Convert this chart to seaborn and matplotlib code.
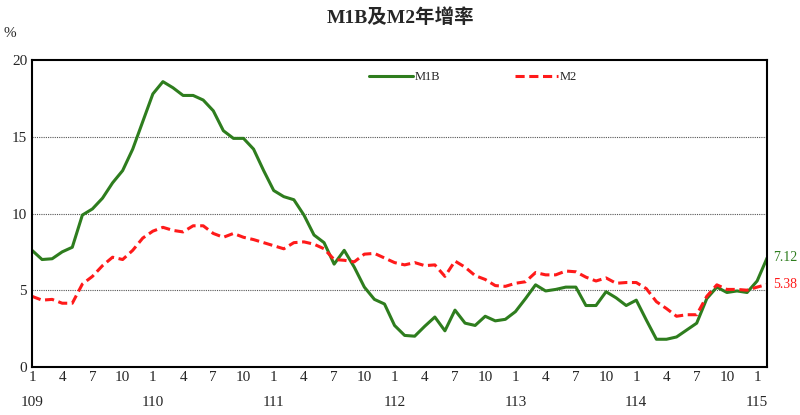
import numpy as np
import matplotlib
matplotlib.use('Agg')
import matplotlib.pyplot as plt
import seaborn as sns

# monthly data from 109/1 to 115/2
m1b = [7.6, 7.0, 7.05, 7.5, 7.8, 9.9, 10.3, 11.0, 12.0, 12.8, 14.2, 16.0,
       17.8, 18.6, 18.2, 17.7, 17.7, 17.4, 16.7, 15.4, 14.9, 14.9, 14.2, 12.8,
       11.5, 11.1, 10.9, 9.9, 8.6, 8.1, 6.7, 7.6, 6.5, 5.2, 4.4, 4.1,
       2.7, 2.05, 2.0, 2.65, 3.25, 2.35, 3.7, 2.85, 2.7, 3.3, 3.0, 3.1,
       3.6, 4.45, 5.35, 4.95, 5.05, 5.2, 5.2, 4.0, 4.0, 4.9, 4.5, 4.0,
       4.35, 3.05, 1.8, 1.8, 1.95, 2.4, 2.85, 4.45, 5.2, 4.85, 4.95, 4.85,
       5.6, 7.12]
m2 = [4.6, 4.35, 4.4, 4.15, 4.15, 5.4, 5.9, 6.6, 7.15, 7.0, 7.6, 8.4,
      8.85, 9.1, 8.9, 8.8, 9.2, 9.2, 8.7, 8.45, 8.7, 8.45, 8.3, 8.1,
      7.9, 7.7, 8.1, 8.15, 8.0, 7.7, 7.0, 6.95, 6.85, 7.35, 7.4, 7.1,
      6.8, 6.65, 6.8, 6.6, 6.65, 5.9, 6.9, 6.5, 5.95, 5.7, 5.3, 5.25,
      5.45, 5.55, 6.15, 6.0, 6.0, 6.25, 6.2, 5.85, 5.6, 5.8, 5.45, 5.5,
      5.5, 5.1, 4.25, 3.8, 3.3, 3.4, 3.4, 4.6, 5.35, 5.05, 5.05, 5.0,
      5.2, 5.38]
years = ['109', '110', '111', '112', '113', '114', '115']
month_ticks = ['1', '4', '7', '10']

sns.set_style('white')
plt.rcParams['font.family'] = ['Liberation Serif', 'Noto Sans CJK TC']

x = np.arange(len(m1b))
fig = plt.figure(figsize=(8, 4.15), dpi=100)
ax = fig.add_axes([0.04, 0.116, 0.919, 0.739])

sns.lineplot(x=x, y=m1b, ax=ax, color='#2e7d1e', lw=2.2, label='M1B')
sns.lineplot(x=x, y=m2, ax=ax, color='#ff1a1a', lw=2.2, ls=(0, (3, 1.5)), label='M2')

ax.set_xlim(0, len(m1b) - 1)
ax.set_ylim(0, 20)
ax.set_yticks([0, 5, 10, 15, 20])
for v in [5, 10, 15]:
    ax.axhline(v, color='#555555', lw=0.8, ls=(0, (1, 1)), zorder=0)

ticks = np.arange(0, len(m1b), 3)
ax.set_xticks(ticks)
ax.set_xticklabels([month_ticks[(t // 3) % 4] for t in ticks], fontsize=11)
ax.tick_params(axis='x', direction='in', length=5, pad=3)
ax.tick_params(axis='y', length=0, labelsize=11)
for i, yr in enumerate(years):
    ax.text(i * 12, -2.35, yr, ha='center', va='center', fontsize=11)
for s in ax.spines.values():
    s.set_linewidth(1.5)
    s.set_color('black')

ax.text(len(m1b) - 1 + 0.6, m1b[-1], f'{m1b[-1]:.2f}', color='#2e7d1e', fontsize=10, va='center')
ax.text(len(m2) - 1 + 0.6, m2[-1], f'{m2[-1]:.2f}', color='#ff1a1a', fontsize=10, va='center')
ax.text(-2.2, 21.5, '%', fontsize=11, ha='center')

ax.legend(loc='upper center', bbox_to_anchor=(0.6, 1.0), ncol=2, frameon=False,
          fontsize=9, handlelength=3.5, columnspacing=6, handletextpad=0.1)
fig.suptitle('M1B及M2年增率', fontsize=14, fontweight='bold', y=0.98)
fig.savefig('out.png', dpi=100)
